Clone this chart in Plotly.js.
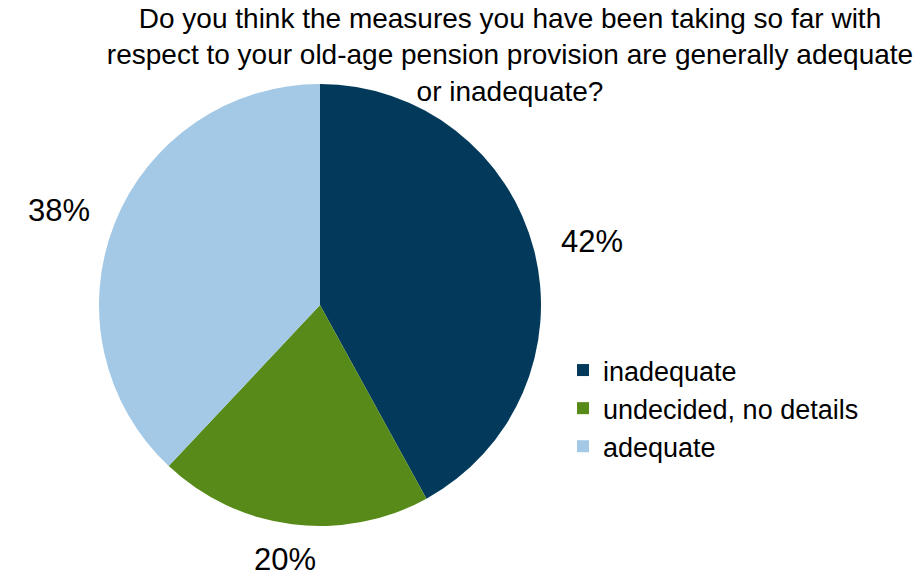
<!DOCTYPE html>
<html>
<head>
<meta charset="utf-8">
<script src="https://cdn.plot.ly/plotly-3.0.1.min.js"></script>
<style>html,body{margin:0;padding:0;background:#fff;}#chart{width:913px;height:580px;}</style>
</head>
<body>
<div id="chart"></div>
<script>
const categories = ["inadequate", "undecided, no details", "adequate"];
const values = [42, 20, 38];
const colors = ["#033a5b", "#578a18", "#a3c9e6"];
const titleText = "Do you think the measures you have been taking so far with<br>respect to your old-age pension provision are generally adequate<br>or inadequate?";

const W = 913, H = 580;
const cx = 320, cy = 305, R = 221;
const dom = {x: [(cx - R) / W, (cx + R) / W], y: [(H - cy - R) / H, (H - cy + R) / H]};

// percent labels placed outside each slice, at its mid-angle (computed from the data)
const total = values.reduce((a, b) => a + b, 0);
let cum = 0;
const annotations = values.map((v, i) => {
  const mid = (cum + v / 2) / total * 2 * Math.PI;
  cum += v;
  const dx = Math.sin(mid), dy = -Math.cos(mid);
  const px = cx + dx * (R + 60), py = cy + dy * (R + 36);
  return {
    text: Math.round(v / total * 100) + "%",
    xref: "paper", yref: "paper",
    x: px / W, y: (H - py) / H,
    xanchor: "center", yanchor: "middle",
    showarrow: false,
    font: {family: "Liberation Sans, Arial, sans-serif", size: 31, color: "#000"}
  };
});

const data = [{
  type: "pie",
  labels: categories,
  values: values,
  marker: {colors: colors, line: {width: 0}},
  sort: false,
  direction: "clockwise",
  rotation: 0,
  textinfo: "none",
  hoverinfo: "label+percent",
  domain: dom
}];

const layout = {
  width: W, height: H,
  margin: {l: 0, r: 0, t: 0, b: 0},
  paper_bgcolor: "#fff",
  title: {
    text: titleText,
    x: 510 / W, xanchor: "center",
    y: 0.952, yanchor: "top", yref: "container",
    font: {family: "Liberation Sans Narrow, Arial Narrow, Liberation Sans, sans-serif", size: 28, color: "#000"}
  },
  showlegend: true,
  legend: {
    x: 563 / W, xanchor: "left",
    y: (H - 346) / H, yanchor: "top",
    font: {family: "Liberation Sans, Arial, sans-serif", size: 27, color: "#000"},
    bgcolor: "rgba(0,0,0,0)",
    traceorder: "normal"
  },
  annotations: annotations
};

Plotly.newPlot("chart", data, layout, {displayModeBar: false, staticPlot: true});
</script>
</body>
</html>
